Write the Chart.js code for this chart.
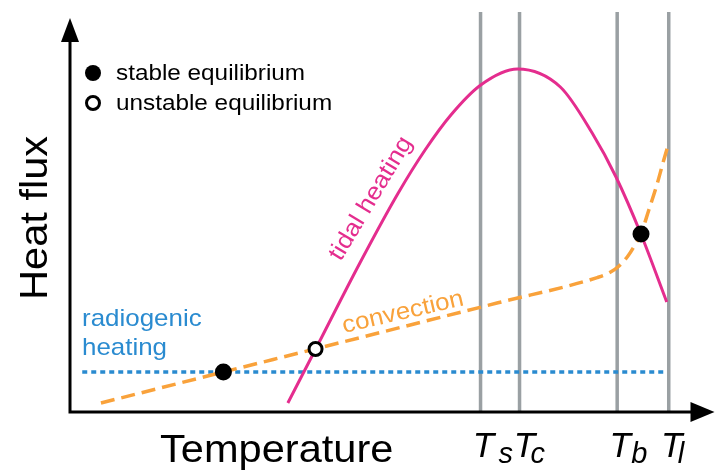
<!DOCTYPE html>
<html>
<head>
<meta charset="utf-8">
<script src="https://cdn.jsdelivr.net/npm/chart.js@4.4.1/dist/chart.umd.min.js"></script>
<style>
  html, body { margin: 0; padding: 0; background: #fff; }
  #wrap { width: 724px; height: 471px; position: relative; }
</style>
</head>
<body>
<div id="wrap"><canvas id="heatChart"></canvas></div>
<script>
// schematic units: temperature 0..100, heat flux 0..100

// tidal heating curve
const tidalX = [33.8, 38.12, 45.06, 50.93, 55.09, 59.10, 63.73, 69.44, 76.08, 81.02, 84.72, 88.58, 92.59];
const tidalY = [2.25, 15.75, 37.5, 54.75, 65.5, 74.25, 81.75, 85.75, 81.25, 69.75, 58.75, 44.5, 27.5];

// convection curve
const convX = [4.8, 23.8, 38.0, 66.4, 81.8, 83.64, 85.19, 86.57, 87.65, 88.58, 89.81, 91.05, 92.13, 92.9];
const convY = [2.25, 10.0, 15.75, 27.3, 33.6, 34.75, 36.5, 39.0, 41.75, 44.5, 50.5, 56.75, 63.0, 67.25];

// radiogenic heating (flat)
const radioX = [1.9, 92.3];
const radioY = [10, 10];

// equilibria
const stableX = [23.8, 88.6];
const stableY = [10, 44.5];
const unstableX = [38.1];
const unstableY = [15.75];

// characteristic temperatures
const tempSubs = ['s', 'c', 'b', 'l'];
const tempX = [63.7, 69.75, 84.9, 92.9];

const COLORS = {
  tidal: '#e42d8e',
  conv: '#f9a23b',
  radio: '#2a8bd0',
  grid: '#9aa0a3',
  ink: '#000000',
};

const FONT = '"Liberation Sans", Arial, Helvetica, sans-serif';
const STRETCH = 1.08;

function pts(xs, ys) {
  return xs.map((x, i) => ({ x: x, y: ys[i] }));
}

function drawText(ctx, s, px, py, size, color, opt) {
  opt = opt || {};
  ctx.save();
  ctx.translate(px, py);
  if (opt.angle) ctx.rotate(opt.angle * Math.PI / 180);
  ctx.scale(opt.stretch || STRETCH, 1);
  ctx.font = (opt.italic ? 'italic ' : '') + size + 'px ' + FONT;
  ctx.fillStyle = color;
  ctx.textAlign = opt.align || 'left';
  ctx.textBaseline = 'alphabetic';
  ctx.fillText(s, 0, 0);
  ctx.restore();
}

// axes with arrows + all the annotations
const annotate = {
  id: 'annotate',
  afterDatasetsDraw(chart) {
    const { ctx, chartArea: a, scales: { x, y } } = chart;
    const x0 = a.left, y0 = a.bottom;
    const yTip = y.getPixelForValue(98.5);
    const xTip = a.right;

    ctx.save();
    ctx.strokeStyle = COLORS.ink;
    ctx.fillStyle = COLORS.ink;
    ctx.lineWidth = 3;
    ctx.beginPath();
    ctx.moveTo(x0, yTip + 20);
    ctx.lineTo(x0, y0);
    ctx.lineTo(xTip - 20, y0);
    ctx.stroke();
    // arrow heads
    ctx.beginPath();
    ctx.moveTo(x0, yTip);
    ctx.lineTo(x0 - 9, yTip + 24);
    ctx.lineTo(x0 + 9, yTip + 24);
    ctx.closePath();
    ctx.fill();
    ctx.beginPath();
    ctx.moveTo(xTip, y0);
    ctx.lineTo(xTip - 24, y0 - 10);
    ctx.lineTo(xTip - 24, y0 + 10);
    ctx.closePath();
    ctx.fill();

    // legend
    const lx = x0 + 23;
    ctx.beginPath();
    ctx.arc(lx, 73, 8, 0, Math.PI * 2);
    ctx.fill();
    ctx.beginPath();
    ctx.arc(lx, 103, 6.5, 0, Math.PI * 2);
    ctx.fillStyle = '#fff';
    ctx.fill();
    ctx.lineWidth = 3;
    ctx.stroke();
    ctx.restore();

    drawText(ctx, 'stable equilibrium', x0 + 46, 80, 22.5, COLORS.ink);
    drawText(ctx, 'unstable equilibrium', x0 + 46, 110, 22.5, COLORS.ink);

    // axis titles
    drawText(ctx, 'Temperature', 160, 462, 38.5, COLORS.ink);
    drawText(ctx, 'Heat flux', 47, 300, 38.5, COLORS.ink, { angle: -90 });

    // curve labels
    drawText(ctx, 'radiogenic', x0 + 12, 326, 24, COLORS.radio);
    drawText(ctx, 'heating', x0 + 12, 355, 24, COLORS.radio);
    drawText(ctx, 'tidal heating', x.getPixelForValue(47.6), y.getPixelForValue(52.5), 24, COLORS.tidal, { angle: -59, align: 'center' });
    drawText(ctx, 'convection', x.getPixelForValue(51.9), y.getPixelForValue(23.25), 24, COLORS.conv, { angle: -13, align: 'center' });

    // temperature labels under the grey lines
    const subShift = [18, 11, 14, 9];
    tempX.forEach((t, i) => {
      const px = x.getPixelForValue(t);
      drawText(ctx, 'T', px + (i === 1 ? 5 : 3), 457, 35, COLORS.ink, { italic: true, align: 'center', stretch: 1 });
      drawText(ctx, tempSubs[i], px + subShift[i], 463, 29, COLORS.ink, { italic: true, stretch: 1 });
    });
  },
};

const tempLines = tempX.map((t) => ({
  data: [{ x: t, y: 0 }, { x: t, y: 100 }],
  borderColor: COLORS.grid,
  borderWidth: 3.5,
  pointRadius: 0,
  order: 10,
}));

const config = {
  type: 'line',
  data: {
    datasets: tempLines.concat([
      {
        label: 'radiogenic heating',
        data: pts(radioX, radioY),
        borderColor: COLORS.radio,
        borderWidth: 3.5,
        borderDash: [5, 4],
        pointRadius: 0,
        order: 5,
      },
      {
        label: 'convection',
        data: pts(convX, convY),
        borderColor: COLORS.conv,
        borderWidth: 3.5,
        borderDash: [14, 7],
        cubicInterpolationMode: 'monotone',
        pointRadius: 0,
        order: 4,
      },
      {
        label: 'tidal heating',
        data: pts(tidalX, tidalY),
        borderColor: COLORS.tidal,
        borderWidth: 3,
        cubicInterpolationMode: 'monotone',
        pointRadius: 0,
        order: 3,
      },
      {
        label: 'stable equilibrium',
        data: pts(stableX, stableY),
        showLine: false,
        pointRadius: 8.5,
        pointBackgroundColor: COLORS.ink,
        pointBorderWidth: 0,
        order: 1,
      },
      {
        label: 'unstable equilibrium',
        data: pts(unstableX, unstableY),
        showLine: false,
        pointRadius: 6.5,
        pointBackgroundColor: '#fff',
        pointBorderColor: COLORS.ink,
        pointBorderWidth: 3,
        order: 1,
      },
    ]),
  },
  options: {
    responsive: true,
    maintainAspectRatio: false,
    animation: false,
    layout: { padding: { left: 70, right: 6, top: 12, bottom: 59 } },
    plugins: {
      legend: { display: false },
      tooltip: { enabled: false },
    },
    scales: {
      x: { type: 'linear', min: 0, max: 100, display: false },
      y: { type: 'linear', min: 0, max: 100, display: false },
    },
  },
  plugins: [annotate],
};

new Chart(document.getElementById('heatChart'), config);
</script>
</body>
</html>
